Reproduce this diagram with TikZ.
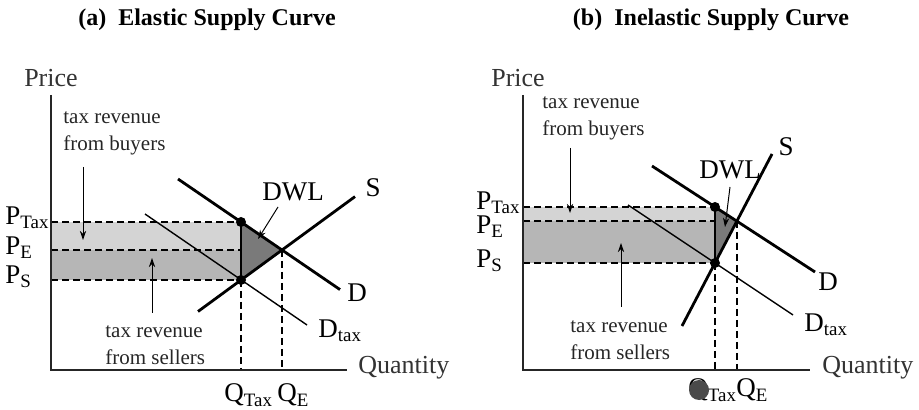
\documentclass[tikz,border=0pt]{standalone}
\usepackage{fontspec}
\setmainfont{Liberation Serif}
\usetikzlibrary{arrows.meta,positioning}
\definecolor{cband}{HTML}{D4D4D4}
\definecolor{cbandlow}{HTML}{B6B6B6}
\definecolor{cdwl}{HTML}{7A7A7A}
\definecolor{cblob}{HTML}{4A4A4A}
\tikzset{
  axisl/.style={line width=0.7pt, draw=black!85},
  curve/.style={line width=1.4pt},
  dtaxl/.style={line width=0.7pt},
  guide/.style={line width=0.6pt, dash pattern=on 3.5pt off 2pt},
  dot/.style={circle, fill=black, inner sep=0pt, minimum size=5pt},
  pre/.style={-{Stealth[length=1.6mm,width=1.1mm]}, line width=0.5pt},
  lbl/.style={font=\fontsize{13.5}{16}\selectfont, inner sep=1pt},
  axlbl/.style={font=\fontsize{13}{16}\selectfont, text=black!80, inner sep=1pt},
  note/.style={font=\fontsize{10.5}{13.5}\selectfont, align=left, inner sep=0pt, text=black!85},
  ttl/.style={font=\fontsize{12}{14}\selectfont\bfseries},
}

\begin{document}
\begin{tikzpicture}[x=0.5pt,y=-0.5pt]
\useasboundingbox (0,0) rectangle (919,410);
% ---------------- elastic supply
\node[ttl] (ta) at (207,20) {(a)\enspace Elastic Supply Curve};
\coordinate (ya) at (51,95);
\coordinate (oa) at (51,370);
\coordinate (xa) at (347,370);
\coordinate (pta) at (51,222);
\coordinate (pea) at (51,250);
\coordinate (psa) at (51,280);
\coordinate (ha) at (241,222);
\coordinate (ma) at (241,250);
\coordinate (la) at (241,280);
\coordinate (ea) at (282,250);
\coordinate (qta) at (241,370);
\coordinate (qea) at (282,370);
\fill[cband] (pta) rectangle (ma);
\fill[cbandlow] (pea) rectangle (la);
\fill[cdwl] (ha) -- (ea) -- (la) -- cycle;
\draw[guide] (pta) -- (ha);
\draw[guide] (pea) -- (ma);
\draw[guide] (psa) -- (la);
\draw[guide] (la) -- (qta);
\draw[guide] (ea) -- (qea);
\draw[axisl] (ya) -- (oa) -- (xa);
\coordinate (d1a) at (178,179);
\coordinate (d2a) at (340,289.6);
\coordinate (s1a) at (198,311.5);
\coordinate (s2a) at (355,196.6);
\coordinate (t1a) at (145,214);
\coordinate (t2a) at (307,325);
\draw[dtaxl] (t1a) -- (t2a);
\draw[curve] (d1a) -- (d2a);
\draw[curve] (s1a) -- (s2a);
\draw[curve] (ha) -- (la);
\node[dot] (hda) at (ha) {};
\node[dot] (lda) at (la) {};
\node[lbl] (da) at (357,293) {D};
\node[lbl] (sa) at (373,188) {S};
\node[lbl, anchor=west] (dta) at (316,331) {D\textsubscript{tax}};
\node[lbl] (dwla) at (293,192) {DWL};
\coordinate (dwlta) at (278,207);
\coordinate (dwlpa) at (258,239);
\draw[pre] (dwlta) -- (dwlpa);
\node[axlbl] (pra) at (51,78) {Price};
\node[axlbl, anchor=west] (qua) at (356,368) {Quantity};
\node[lbl, anchor=west] (ptla) at (3,218) {P\textsubscript{Tax}};
\node[lbl, anchor=west] (pela) at (3,248) {P\textsubscript{E}};
\node[lbl, anchor=west] (psla) at (3,277) {P\textsubscript{S}};
\node[lbl, anchor=west] (qtla) at (222,395) {Q\textsubscript{Tax}};
\node[lbl, anchor=west] (qela) at (275,395) {Q\textsubscript{E}};
\node[note, anchor=west] (buya) at (63,133) {tax revenue\\from buyers};
\coordinate (bta) at (83,167);
\coordinate (bha) at (83,240);
\draw[pre] (bta) -- (bha);
\node[note, anchor=west] (sela) at (105,345) {tax revenue\\from sellers};
\coordinate (sta) at (152,313);
\coordinate (sha) at (152,258);
\draw[pre] (sta) -- (sha);
% ---------------- inelastic supply
\node[ttl] (tb) at (711,20) {(b)\enspace Inelastic Supply Curve};
\coordinate (yb) at (523,95);
\coordinate (ob) at (523,370);
\coordinate (xb) at (810,370);
\coordinate (ptb) at (523,207);
\coordinate (peb) at (523,221);
\coordinate (psb) at (523,263);
\coordinate (hb) at (715,207);
\coordinate (mb) at (715,221);
\coordinate (lb) at (715,263);
\coordinate (eb) at (737,221);
\coordinate (qtb) at (715,370);
\coordinate (qeb) at (737,370);
\fill[cband] (ptb) rectangle (mb);
\fill[cbandlow] (peb) rectangle (lb);
\fill[cdwl] (hb) -- (eb) -- (lb) -- cycle;
\draw[guide] (ptb) -- (hb);
\draw[guide] (peb) -- (mb);
\draw[guide] (psb) -- (lb);
\draw[guide] (lb) -- (qtb);
\draw[guide] (eb) -- (qeb);
\draw[axisl] (yb) -- (ob) -- (xb);
\coordinate (d1b) at (652,166);
\coordinate (d2b) at (815,272);
\coordinate (s1b) at (682,326);
\coordinate (s2b) at (772,154);
\coordinate (t1b) at (628,205);
\coordinate (t2b) at (793,315);
\draw[dtaxl] (t1b) -- (t2b);
\draw[curve] (d1b) -- (d2b);
\draw[curve] (s1b) -- (s2b);
\draw[curve] (hb) -- (lb);
\node[dot] (hdb) at (hb) {};
\node[dot] (ldb) at (lb) {};
\node[lbl] (db) at (828,282) {D};
\node[lbl] (sb) at (786,147) {S};
\node[lbl, anchor=west] (dtb) at (802,325) {D\textsubscript{tax}};
\node[lbl] (dwlb) at (730,170) {DWL};
\coordinate (dwltb) at (730,187);
\coordinate (dwlpb) at (725,227);
\draw[pre] (dwltb) -- (dwlpb);
\node[axlbl] (prb) at (518,78) {Price};
\node[axlbl, anchor=west] (qub) at (820,368) {Quantity};
\node[lbl, anchor=west] (ptlb) at (474,203) {P\textsubscript{Tax}};
\node[lbl, anchor=west] (pelb) at (474,227) {P\textsubscript{E}};
\node[lbl, anchor=west] (pslb) at (474,261) {P\textsubscript{S}};
\node[lbl, anchor=west] (qtlb) at (686,390) {Q\textsubscript{Tax}};
\node[circle, fill=cblob, inner sep=0pt, minimum size=10pt] (blob) at (699,390) {};
\node[lbl, anchor=west] (qelb) at (734,390) {Q\textsubscript{E}};
\node[note, anchor=west] (buyb) at (542,118) {tax revenue\\from buyers};
\coordinate (btb) at (570,148);
\coordinate (bhb) at (570,213);
\draw[pre] (btb) -- (bhb);
\node[note, anchor=west] (selb) at (570,340) {tax revenue\\from sellers};
\coordinate (stb) at (621,307);
\coordinate (shb) at (621,243);
\draw[pre] (stb) -- (shb);
\end{tikzpicture}
\end{document}
